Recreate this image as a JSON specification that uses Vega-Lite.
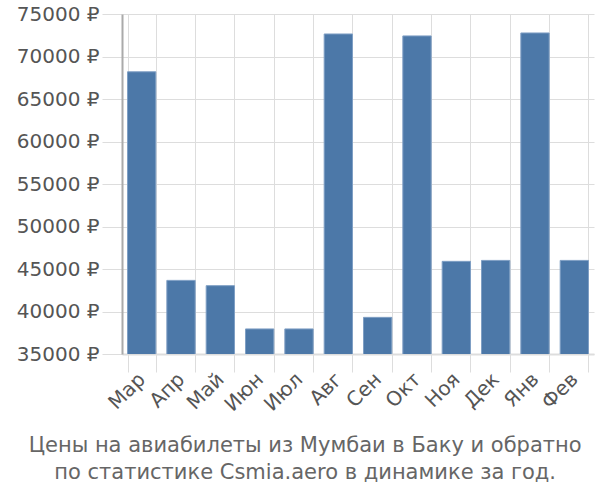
{
  "$schema": "https://vega.github.io/schema/vega-lite/v6.json",
  "width": 472,
  "height": 340,
  "padding": {"left": 16, "top": 4, "right": 5, "bottom": 5},
  "config": {
    "view": {"stroke": null},
    "font": "DejaVu Sans"
  },
  "title": {
    "text": ["Цены на авиабилеты из Мумбаи в Баку и обратно", "по статистике Csmia.aero в динамике за год."],
    "orient": "bottom",
    "anchor": "middle",
    "frame": "bounds",
    "font": "DejaVu Sans",
    "fontSize": 21,
    "fontWeight": "normal",
    "color": "#666666",
    "lineHeight": 27,
    "offset": 20
  },
  "data": {
    "values": [
      {"month": "Мар", "price": 68200},
      {"month": "Апр", "price": 43660},
      {"month": "Май", "price": 43040},
      {"month": "Июн", "price": 37950},
      {"month": "Июл", "price": 37950},
      {"month": "Авг", "price": 72650},
      {"month": "Сен", "price": 39310},
      {"month": "Окт", "price": 72420},
      {"month": "Ноя", "price": 45900},
      {"month": "Дек", "price": 46010},
      {"month": "Янв", "price": 72770},
      {"month": "Фев", "price": 46010}
    ]
  },
  "mark": {"type": "bar", "color": "#4c78a8", "stroke": "#7f9fc4", "strokeWidth": 1, "clip": true},
  "encoding": {
    "x": {
      "field": "month",
      "type": "nominal",
      "sort": null,
      "scale": {"paddingInner": 0.28, "paddingOuter": 0.14},
      "axis": {
        "title": null,
        "labelAngle": -45,
        "labelAlign": "right",
        "labelBaseline": "middle",
        "labelFontSize": 20,
        "labelColor": "#555555",
        "labelPadding": 4,
        "tickBand": "extent",
        "tickSize": 18,
        "tickColor": "#dddddd",
        "grid": true,
        "gridColor": "#dddddd",
        "domainColor": "#dddddd",
        "domainWidth": 2
      }
    },
    "y": {
      "field": "price",
      "type": "quantitative",
      "scale": {"domain": [35000, 75000], "nice": false, "zero": false},
      "axis": {
        "title": null,
        "values": [35000, 40000, 45000, 50000, 55000, 60000, 65000, 70000, 75000],
        "labelExpr": "format(datum.value, 'd') + ' ₽'",
        "labelFontSize": 20,
        "labelColor": "#555555",
        "labelPadding": 3,
        "tickSize": 20,
        "tickColor": "#dddddd",
        "gridColor": "#dddddd",
        "domainColor": "#aaaaaa",
        "domainWidth": 2
      }
    }
  }
}
